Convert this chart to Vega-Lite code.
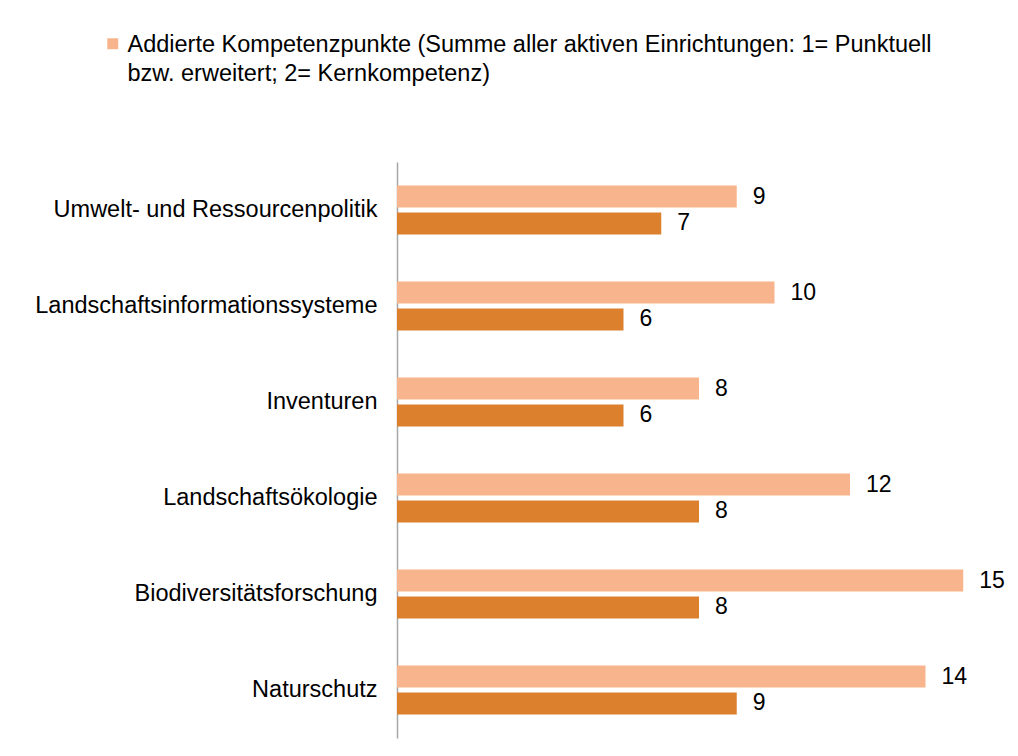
{
  "$schema": "https://vega.github.io/schema/vega-lite/v6.json",
  "width": 604,
  "height": 576,
  "autosize": {"type": "none"},
  "padding": {"left": 397, "top": 162, "right": 17, "bottom": 18},
  "background": "white",
  "config": {"view": {"stroke": null}, "font": "Liberation Sans"},
  "data": {
    "values": [
      {"Bereich": "Umwelt- und Ressourcenpolitik", "Reihe": "Addierte Kompetenzpunkte (Summe aller aktiven Einrichtungen: 1= Punktuell bzw. erweitert; 2= Kernkompetenz)", "Wert": 9},
      {"Bereich": "Umwelt- und Ressourcenpolitik", "Reihe": "Anzahl aktiver Einrichtungen", "Wert": 7},
      {"Bereich": "Landschaftsinformationssysteme", "Reihe": "Addierte Kompetenzpunkte (Summe aller aktiven Einrichtungen: 1= Punktuell bzw. erweitert; 2= Kernkompetenz)", "Wert": 10},
      {"Bereich": "Landschaftsinformationssysteme", "Reihe": "Anzahl aktiver Einrichtungen", "Wert": 6},
      {"Bereich": "Inventuren", "Reihe": "Addierte Kompetenzpunkte (Summe aller aktiven Einrichtungen: 1= Punktuell bzw. erweitert; 2= Kernkompetenz)", "Wert": 8},
      {"Bereich": "Inventuren", "Reihe": "Anzahl aktiver Einrichtungen", "Wert": 6},
      {"Bereich": "Landschaftsökologie", "Reihe": "Addierte Kompetenzpunkte (Summe aller aktiven Einrichtungen: 1= Punktuell bzw. erweitert; 2= Kernkompetenz)", "Wert": 12},
      {"Bereich": "Landschaftsökologie", "Reihe": "Anzahl aktiver Einrichtungen", "Wert": 8},
      {"Bereich": "Biodiversitätsforschung", "Reihe": "Addierte Kompetenzpunkte (Summe aller aktiven Einrichtungen: 1= Punktuell bzw. erweitert; 2= Kernkompetenz)", "Wert": 15},
      {"Bereich": "Biodiversitätsforschung", "Reihe": "Anzahl aktiver Einrichtungen", "Wert": 8},
      {"Bereich": "Naturschutz", "Reihe": "Addierte Kompetenzpunkte (Summe aller aktiven Einrichtungen: 1= Punktuell bzw. erweitert; 2= Kernkompetenz)", "Wert": 14},
      {"Bereich": "Naturschutz", "Reihe": "Anzahl aktiver Einrichtungen", "Wert": 9}
    ]
  },
  "encoding": {
    "y": {
      "field": "Bereich",
      "type": "nominal",
      "sort": ["Umwelt- und Ressourcenpolitik", "Landschaftsinformationssysteme", "Inventuren", "Landschaftsökologie", "Biodiversitätsforschung", "Naturschutz"],
      "scale": {"paddingInner": 0.49, "paddingOuter": 0.245},
      "axis": {
        "title": null,
        "ticks": false,
        "grid": false,
        "labelPadding": 20,
        "labelFontSize": 23.5,
        "labelFont": "Liberation Sans",
        "labelColor": "#000000",
        "labelLimit": 400,
        "domainColor": "#A6A6A6",
        "domainWidth": 1.5
      }
    },
    "yOffset": {
      "field": "Reihe",
      "type": "nominal",
      "sort": ["Addierte Kompetenzpunkte (Summe aller aktiven Einrichtungen: 1= Punktuell bzw. erweitert; 2= Kernkompetenz)", "Anzahl aktiver Einrichtungen"],
      "scale": {"paddingInner": 0.185, "paddingOuter": 0}
    },
    "x": {
      "field": "Wert",
      "type": "quantitative",
      "scale": {"domain": [0, 16], "nice": false},
      "axis": null
    }
  },
  "layer": [
    {
      "mark": {"type": "bar"},
      "encoding": {
        "color": {
          "field": "Reihe",
          "type": "nominal",
          "scale": {
            "domain": ["Addierte Kompetenzpunkte (Summe aller aktiven Einrichtungen: 1= Punktuell bzw. erweitert; 2= Kernkompetenz)", "Anzahl aktiver Einrichtungen"],
            "range": ["#F8B48C", "#DC802E"]
          },
          "legend": {
            "values": ["Addierte Kompetenzpunkte (Summe aller aktiven Einrichtungen: 1= Punktuell bzw. erweitert; 2= Kernkompetenz)"],
            "orient": "none",
            "legendX": -296,
            "legendY": -130,
            "title": null,
            "padding": 0,
            "symbolType": "square",
            "symbolSize": 120,
            "symbolStrokeWidth": 0,
            "labelFontSize": 23.5,
            "labelFont": "Liberation Sans",
            "labelColor": "#000000",
            "labelLimit": 1000,
            "labelOffset": 3,
            "labelExpr": "['Addierte Kompetenzpunkte (Summe aller aktiven Einrichtungen: 1= Punktuell', 'bzw. erweitert; 2= Kernkompetenz)']",
            "encode": {"labels": {"update": {"lineHeight": {"value": 29}, "dy": {"value": 1}}}}
          }
        }
      }
    },
    {
      "mark": {"type": "text", "align": "left", "baseline": "middle", "dx": 16, "fontSize": 23, "font": "Liberation Sans", "color": "#000000"},
      "encoding": {"text": {"field": "Wert", "type": "quantitative"}}
    }
  ]
}
